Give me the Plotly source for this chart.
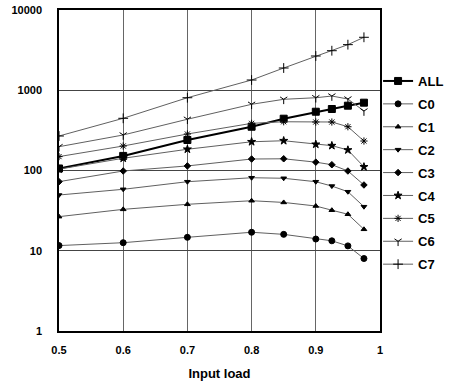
import plotly.graph_objects as go

load = [0.5, 0.6, 0.7, 0.8, 0.85, 0.9, 0.925, 0.95, 0.975]

ALL = [106, 152, 240, 351, 442, 540, 584, 642, 700]
C0 = [11.6, 12.6, 14.7, 17.0, 16.0, 14.0, 13.3, 11.5, 8.0]
C1 = [26.6, 32.8, 37.9, 42.0, 40.0, 36.1, 32.0, 28.5, 18.5]
C2 = [49.5, 58.3, 72.5, 81.3, 80.0, 72.5, 64.0, 54.4, 35.4]
C3 = [72.6, 98.6, 114, 139, 140, 127, 118, 98.6, 66]
C4 = [104, 142, 184, 228, 235, 212, 204, 180, 111]
C5 = [149, 202, 285, 387, 405, 402, 402, 351, 233]
C6 = [198, 277, 435, 668, 771, 807, 847, 778, 551]
C7 = [269, 447, 807, 1342, 1893, 2672, 3110, 3700, 4570]

names = ["ALL", "C0", "C1", "C2", "C3", "C4", "C5", "C6", "C7"]
series = [ALL, C0, C1, C2, C3, C4, C5, C6, C7]
symbols = ["square", "circle", "triangle-up", "triangle-down", "diamond",
           "star", "asterisk-open", "y-down-open", "cross-thin-open"]
sizes = [7, 6, 5, 5, 5, 6, 6, 6, 7]

fig = go.Figure()
for i, (n, s) in enumerate(zip(names, series)):
    is_all = n == "ALL"
    fig.add_trace(go.Scatter(
        x=load, y=s, name=n, mode="lines+markers",
        legendgroup=n,
        line=dict(color="#000000" if is_all else "#606060", width=2 if is_all else 1),
        marker=dict(symbol=symbols[i], size=sizes[i], color="#000000",
                    line=dict(color="#000000", width=1)),
    ))

bold = dict(family="Liberation Sans, Arial, sans-serif", size=11, color="#000000", weight="bold")

fig.update_layout(
    width=463, height=386,
    margin=dict(l=59, r=83, t=10, b=55, autoexpand=False),
    paper_bgcolor="white", plot_bgcolor="white",
    showlegend=True,
    legend=dict(x=0.994, xanchor="left", y=0.8255, yanchor="top",
                font=dict(family="Liberation Sans, Arial, sans-serif", size=13,
                          color="#000000", weight="bold"),
                itemwidth=30, tracegroupgap=3, bgcolor="rgba(0,0,0,0)"),
    xaxis=dict(range=[0.5, 1.0], dtick=0.1, tick0=0.5, showgrid=True,
               gridcolor="#666666", gridwidth=1, zeroline=False, automargin=False,
               showline=True, linecolor="#000000", linewidth=1.5, mirror=True,
               ticks="", tickfont=bold, ticklabelstandoff=8,
               title=dict(text="Input load", standoff=14,
                          font=dict(family="Liberation Sans, Arial, sans-serif",
                                    size=13, color="#000000", weight="bold"))),
    yaxis=dict(type="log", range=[0, 4], tickvals=[1, 10, 100, 1000, 10000],
               ticktext=["1", "10", "100", "1000", "10000"], showgrid=True,
               gridcolor="#444444", gridwidth=1, zeroline=False, automargin=False,
               showline=True, linecolor="#000000", linewidth=1.5, mirror=True,
               ticks="", tickfont=bold, ticklabelstandoff=13,
               ticklabeloverflow="allow"),
)

fig.write_html("out.html", config={"displayModeBar": False},
               post_script="document.body.style.margin='0';")
